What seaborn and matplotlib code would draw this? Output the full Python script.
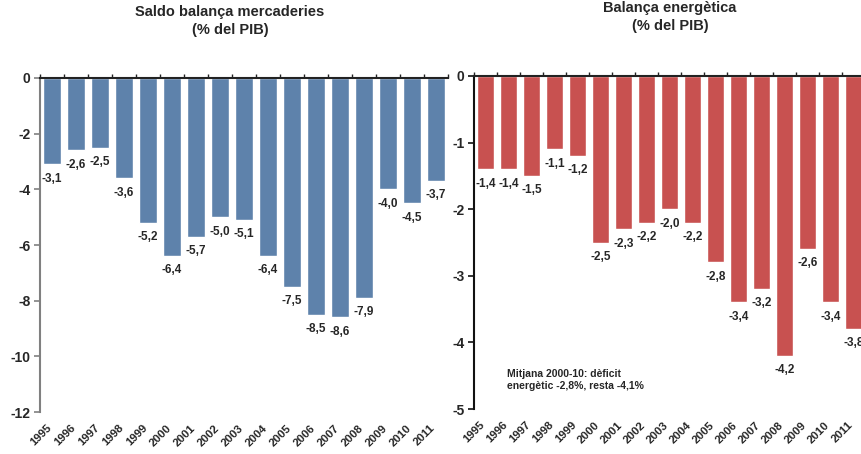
import matplotlib
matplotlib.use("Agg")
import matplotlib.pyplot as plt
import matplotlib.transforms as mtransforms
import seaborn as sns
import pandas as pd
from matplotlib.ticker import FixedLocator

sns.set_style("white")
plt.rcParams['font.family'] = ['Liberation Sans', 'DejaVu Sans']
plt.rcParams['font.weight'] = 'bold'

years = [str(y) for y in range(1995, 2012)]
mercaderies = [-3.1, -2.6, -2.5, -3.6, -5.2, -6.4, -5.7, -5.0, -5.1, -6.4,
               -7.5, -8.5, -8.6, -7.9, -4.0, -4.5, -3.7]
energetica = [-1.4, -1.4, -1.5, -1.1, -1.2, -2.5, -2.3, -2.2, -2.0, -2.2,
              -2.8, -3.4, -3.2, -4.2, -2.6, -3.4, -3.8]

blue = '#5E82AB'
red = '#C85150'

fig = plt.figure(figsize=(8.62, 4.54), dpi=100)
ax1 = fig.add_axes([0.0464, 0.0925, 0.4733, 0.7357])
ax2 = fig.add_axes([0.5499, 0.0991, 0.4536, 0.7335])

df1 = pd.DataFrame({'any': years, 'valor': mercaderies})
df2 = pd.DataFrame({'any': years, 'valor': energetica})


def draw(ax, df, color, ymin, step, spine_color):
    sns.barplot(data=df, x='any', y='valor', color=color, width=0.75,
                saturation=1, ax=ax)
    ax.set_ylim(ymin, 0)
    ax.set_xlim(-0.5, len(df) - 0.5)
    ax.set_yticks([ymin + i * step for i in range(int(-ymin / step) + 1)])
    ax.set_yticklabels(['%g' % t for t in ax.get_yticks()], fontsize=10,
                       fontweight='bold')
    ax.set_xlabel('')
    ax.set_ylabel('')
    for s in ['right', 'bottom']:
        ax.spines[s].set_visible(False)
    ax.spines['top'].set_color('#222222')
    ax.spines['top'].set_linewidth(1.5)
    ax.spines['left'].set_color(spine_color)
    ax.spines['left'].set_linewidth(1.5)
    ax.tick_params(axis='y', direction='out', length=4, width=1.2,
                   color=spine_color, left=True, pad=3)
    ax.tick_params(axis='x', which='major', length=0, pad=2)
    ax.xaxis.set_minor_locator(FixedLocator([i - 0.5 for i in range(len(df) + 1)]))
    ax.tick_params(axis='x', which='minor', top=True, bottom=False,
                   direction='out', length=3, width=1, color='#222222')
    shift = mtransforms.ScaledTranslation(-0.06, -0.08, fig.dpi_scale_trans)
    for lab in ax.get_xticklabels():
        lab.set_rotation(45)
        lab.set_ha('right')
        lab.set_rotation_mode('anchor')
        lab.set_fontsize(8.2)
        lab.set_fontweight('bold')
        lab.set_transform(lab.get_transform() + shift)
    for i, v in enumerate(df['valor']):
        ax.annotate(('%.1f' % v).replace('.', ','), (i, v), xytext=(0, -6),
                    textcoords='offset points', ha='center', va='top',
                    fontsize=8.5, fontweight='bold')


draw(ax1, df1, blue, -12, 2, '#808080')
draw(ax2, df2, red, -5, 1, '#111111')

fig.text(230 / 862, 1 - 5 / 454, 'Saldo balança mercaderies\n(% del PIB)',
         ha='center', va='top', fontsize=10.5, fontweight='bold',
         linespacing=1.4)
fig.text(670 / 862, 1 - 1 / 454, 'Balança energètica\n(% del PIB)',
         ha='center', va='top', fontsize=10.5, fontweight='bold',
         linespacing=1.4)

ax2.text(0.085, 0.12, 'Mitjana 2000-10: dèficit\nenergètic -2,8%, resta -4,1%',
         transform=ax2.transAxes, ha='left', va='top', fontsize=7.5,
         fontweight='bold', linespacing=1.3)

fig.savefig('out.png', dpi=100)
